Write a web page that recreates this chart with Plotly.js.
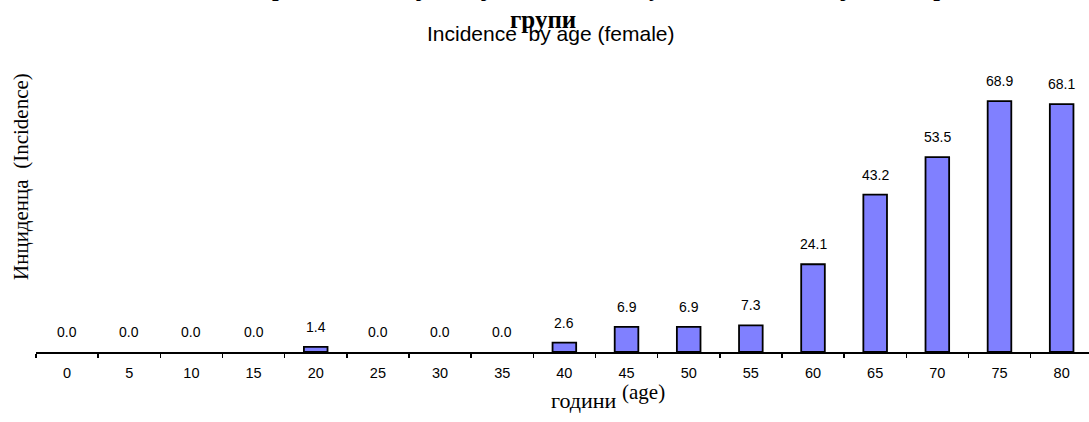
<!DOCTYPE html>
<html>
<head>
<meta charset="utf-8">
<script src="https://cdn.plot.ly/plotly-3.0.1.min.js"></script>
<style>html,body{margin:0;padding:0;background:#fff;}#chart{width:1089px;height:422px;}</style>
</head>
<body>
<div id="chart"></div>
<script>
// Data
const ageGroups = ["0","5","10","15","20","25","30","35","40","45","50","55","60","65","70","75","80"];
const incidence = [0.0,0.0,0.0,0.0,1.4,0.0,0.0,0.0,2.6,6.9,6.9,7.3,24.1,43.2,53.5,68.9,68.1];
const titleTopLine = "Инциденца на карцином на дојка кај жените во Република Македонија по старосни";
const titleLine2 = "групи";
const subtitle = "Incidence&nbsp;&nbsp;by age (female)";
const yTitle = "Инциденца&nbsp;&nbsp;(Incidence)";
const xTitle = "години";
const xTitleSup = "(age)";

const serif = "'Liberation Serif', 'Times New Roman', serif";
const sans = "'Liberation Sans', Arial, sans-serif";

const labelAnnots = ageGroups.map((c, i) => ({
  x: i, y: incidence[i], xref: 'x', yref: 'y',
  text: incidence[i].toFixed(1), showarrow: false,
  yanchor: 'middle', yshift: 20,
  font: {family: sans, size: 14, color: '#000'}
}));

const textAnnots = [
  {text: titleTopLine, x: 0.4805, y: 1.2835, xanchor: 'center', yanchor: 'bottom',
   font: {family: serif, size: 24, color: '#000', weight: 'bold'}},
  {text: '<b>' + titleLine2 + '</b>', x: 0.4815, y: 1.222, xanchor: 'center', yanchor: 'middle',
   font: {family: serif, size: 25, color: '#000'}},
  {text: subtitle, x: 0.489, y: 1.172, xanchor: 'center', yanchor: 'middle',
   font: {family: sans, size: 21, color: '#000'}},
  {text: yTitle, x: -0.01425, y: 0.647, xanchor: 'center', yanchor: 'middle', textangle: -90,
   font: {family: serif, size: 21, color: '#000'}},
  {text: xTitle, x: 0.5204, y: -0.178, xanchor: 'center', yanchor: 'middle',
   font: {family: serif, size: 22, color: '#000'}},
  {text: xTitleSup, x: 0.5769, y: -0.147, xanchor: 'center', yanchor: 'middle',
   font: {family: serif, size: 21, color: '#000'}}
].map(a => Object.assign({xref: 'paper', yref: 'paper', showarrow: false}, a));

const trace = {
  type: 'bar',
  x: ageGroups,
  y: incidence,
  width: 0.38,
  marker: {color: '#8080FF', line: {color: '#000', width: incidence.map(v => v > 0 ? 1.8 : 0)}},
  hoverinfo: 'x+y'
};

const layout = {
  width: 1089, height: 422,
  margin: {l: 36, r: 0, t: 80, b: 70},
  paper_bgcolor: '#fff', plot_bgcolor: '#fff',
  showlegend: false,
  xaxis: {
    type: 'category',
    range: [-0.5, 16.44],
    showline: true, linecolor: '#000', linewidth: 2,
    ticks: 'outside', tickson: 'boundaries', ticklen: 4, tickwidth: 1.5, tickcolor: '#000',
    ticklabelstandoff: 7,
    showgrid: false, zeroline: false,
    tickfont: {family: sans, size: 14.5, color: '#000'}
  },
  yaxis: {
    range: [0, 74.7],
    visible: false, showgrid: false, zeroline: false
  },
  annotations: labelAnnots.concat(textAnnots)
};

Plotly.newPlot('chart', [trace], layout, {displayModeBar: false, staticPlot: true});
</script>
</body>
</html>
